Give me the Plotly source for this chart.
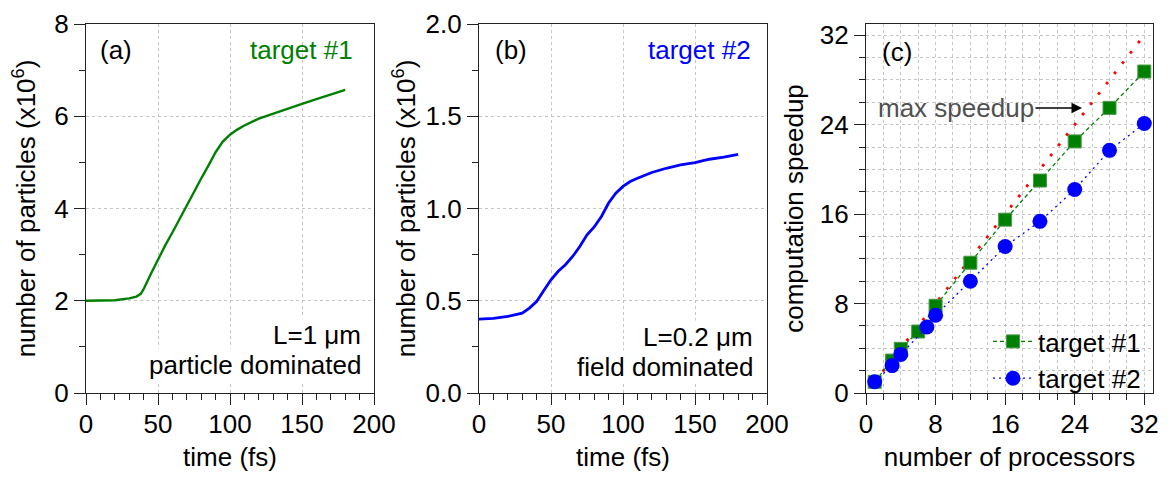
import plotly.graph_objects as go

FONT = "Liberation Sans, Arial, sans-serif"

# Panel (a): target #1
t_a = [0, 10, 20, 30, 35, 38, 40, 45, 50, 55, 60, 65, 70, 75, 80, 85, 90, 95, 100, 105,
       110, 120, 130, 140, 150, 160, 170, 180]
n_a = [2.00, 2.00, 2.01, 2.05, 2.09, 2.15, 2.25, 2.58, 2.90, 3.20, 3.48, 3.78, 4.07, 4.35,
       4.65, 4.93, 5.22, 5.45, 5.60, 5.71, 5.80, 5.95, 6.06, 6.17, 6.27, 6.37, 6.47, 6.57]

# Panel (b): target #2
t_b = [0, 10, 20, 30, 35, 40, 45, 50, 55, 60, 65, 70, 75, 80, 85, 90, 95, 100, 105, 110,
       120, 130, 140, 150, 160, 170, 180]
n_b = [0.400, 0.405, 0.415, 0.433, 0.460, 0.496, 0.555, 0.614, 0.660, 0.695, 0.740, 0.794,
       0.857, 0.900, 0.957, 1.030, 1.083, 1.120, 1.146, 1.164, 1.195, 1.218, 1.236, 1.249,
       1.267, 1.278, 1.294]

# Panel (c): speedup
procs_1 = [1, 3, 4, 6, 8, 12, 16, 20, 24, 28, 32]
speed_1 = [1.0, 2.9, 3.95, 5.5, 7.8, 11.65, 15.5, 19.0, 22.5, 25.5, 28.75]
procs_2 = [1, 3, 4, 7, 8, 12, 16, 20, 24, 28, 32]
speed_2 = [1.0, 2.45, 3.45, 5.9, 6.95, 10.0, 13.1, 15.35, 18.2, 21.7, 24.1]
ideal_procs = [1, 32]
ideal_speed = [1, 32]

GREEN = "#008000"
BLUE = "#0000ff"
RED = "#ff0000"
GRID = "#c4c4c4"
AX = "#222222"

fig = go.Figure()
fig.add_trace(go.Scatter(x=t_a, y=n_a, mode="lines", line=dict(color=GREEN, width=2.4),
                         xaxis="x", yaxis="y", showlegend=False))
fig.add_trace(go.Scatter(x=t_b, y=n_b, mode="lines", line=dict(color=BLUE, width=2.8),
                         xaxis="x2", yaxis="y2", showlegend=False))
fig.add_trace(go.Scatter(x=ideal_procs, y=ideal_speed, mode="lines",
                         line=dict(color=RED, width=2.8, dash="2.8px,10.2px"),
                         xaxis="x3", yaxis="y3", showlegend=False))
fig.add_trace(go.Scatter(x=procs_1, y=speed_1, mode="lines+markers", name="target #1",
                         line=dict(color=GREEN, width=1.3, dash="4px,3px"),
                         marker=dict(symbol="square", size=13, color=GREEN,
                                     line=dict(color="#4a9a4a", width=1)),
                         xaxis="x3", yaxis="y3"))
fig.add_trace(go.Scatter(x=procs_2, y=speed_2, mode="lines+markers", name="target #2",
                         line=dict(color=BLUE, width=1.3, dash="2px,4px"),
                         marker=dict(symbol="circle", size=15, color=BLUE),
                         xaxis="x3", yaxis="y3"))

W, H = 1169, 479
OFF = 8  # page body offset of the figure in the browser
# plot area in screen pixels: x 86..1153, y 24..393
ML = 86 - OFF
MR = W - (1153 - OFF)
MT = 24 - OFF
MB = H - (393 - OFF)
PW = W - ML - MR
PH = H - MT - MB


def dom(p0, p1):
    return [(p0 - OFF - ML) / PW, (p1 - OFF - ML) / PW]


def py(p):
    return (393 - p) / PH


tickfont = dict(family=FONT, size=26, color="black")
titlefont = dict(family=FONT, size=26, color="black")


def xaxis(domain, rng, dtick, mdtick, minor_grid, title, anchor):
    return dict(domain=domain, range=rng, anchor=anchor, dtick=dtick, tick0=0,
                automargin=False,
                showline=True, linecolor=AX, linewidth=1.2, mirror=True,
                ticks="outside", ticklen=11, tickwidth=1.2, tickcolor=AX,
                showgrid=True, gridcolor=GRID, griddash="dot", gridwidth=1,
                zeroline=False, tickfont=tickfont, ticklabelstandoff=-3,
                title=dict(text=title, font=titlefont, standoff=9),
                minor=dict(dtick=mdtick, tick0=0, ticks="outside", ticklen=6,
                           tickwidth=1.2, tickcolor=AX, showgrid=minor_grid,
                           gridcolor=GRID, griddash="dot", gridwidth=1))


def yaxis(rng, dtick, mdtick, minor_grid, title, anchor, standoff, fmt=None):
    d = dict(domain=[0, 1], range=rng, anchor=anchor, dtick=dtick, tick0=0,
             automargin=False,
             showline=True, linecolor=AX, linewidth=1.2, mirror=True,
             ticks="outside", ticklen=11, tickwidth=1.2, tickcolor=AX,
             showgrid=True, gridcolor=GRID, griddash="dot", gridwidth=1,
             zeroline=False, tickfont=tickfont,
             title=dict(text=title, font=titlefont, standoff=standoff),
             minor=dict(dtick=mdtick, tick0=0, ticks="outside", ticklen=6,
                        tickwidth=1.2, tickcolor=AX, showgrid=minor_grid,
                        gridcolor=GRID, griddash="dot", gridwidth=1))
    if fmt:
        d["tickformat"] = fmt
    return d


fig.update_layout(
    width=W, height=H, margin=dict(l=ML, r=MR, t=MT, b=MB),
    paper_bgcolor="white", plot_bgcolor="white",
    font=dict(family=FONT, color="black"),
    xaxis=xaxis(dom(86, 374), [0, 200], 50, 10, False, "time (fs)", "y"),
    yaxis=yaxis([0, 8], 2, 1, False, "number of particles (x10<sup>6</sup>)", "x", 11),
    xaxis2=xaxis(dom(479, 767), [0, 200], 50, 10, False, "time (fs)", "y2"),
    yaxis2=yaxis([0, 2], 0.5, 0.25, False, "number of particles (x10<sup>6</sup>)", "x2", 2, ".1f"),
    xaxis3=xaxis(dom(866, 1153), [0, 33], 8, 2, True, "number of processors", "y3"),
    yaxis3=yaxis([0, 33], 8, 2, True, "computation speedup", "x3", 8),
    legend=dict(x=dom(988, 988)[0], y=py(318), xanchor="left", yanchor="top",
                bgcolor="rgba(0,0,0,0)", font=dict(family=FONT, size=26, color="black"),
                itemwidth=40, tracegroupgap=0),
)

ann = []
txt = dict(family=FONT, size=26, color="black")
ann.append(dict(x=8, y=7.44, xref="x", yref="y", text="(a)", showarrow=False,
                xanchor="left", yanchor="middle", font=txt))
ann.append(dict(x=186.8, y=7.44, xref="x", yref="y", text="target #1", showarrow=False,
                xanchor="right", yanchor="middle", font=dict(family=FONT, size=26, color=GREEN)))
ann.append(dict(x=192.4, y=1.257, xref="x", yref="y", text="L=1 μm", showarrow=False,
                xanchor="right", yanchor="middle", font=txt, bgcolor="white"))
ann.append(dict(x=192.4, y=0.607, xref="x", yref="y", text="particle dominated", showarrow=False,
                xanchor="right", yanchor="middle", font=txt, bgcolor="white"))

ann.append(dict(x=9.7, y=1.859, xref="x2", yref="y2", text="(b)", showarrow=False,
                xanchor="left", yanchor="middle", font=txt))
ann.append(dict(x=190.3, y=1.859, xref="x2", yref="y2", text="target #2", showarrow=False,
                xanchor="right", yanchor="middle", font=dict(family=FONT, size=26, color=BLUE)))
ann.append(dict(x=191.7, y=0.3035, xref="x2", yref="y2", text="L=0.2 μm", showarrow=False,
                xanchor="right", yanchor="middle", font=txt, bgcolor="white"))
ann.append(dict(x=191.7, y=0.141, xref="x2", yref="y2", text="field dominated", showarrow=False,
                xanchor="right", yanchor="middle", font=txt, bgcolor="white"))

ann.append(dict(x=1.6, y=30.5, xref="x3", yref="y3", text="(c)", showarrow=False,
                xanchor="left", yanchor="middle", font=txt))
# "max speedup" label with arrow pointing to the ideal line
ann.append(dict(x=24.84, y=25.49, xref="x3", yref="y3", ax=10.35, ay=25.49,
                axref="x3", ayref="y3", text="max speedup", showarrow=True, arrowhead=2,
                arrowsize=1.4, arrowwidth=1.5, arrowcolor="black", standoff=0,
                font=dict(family=FONT, size=26, color="#505050")))

fig.update_layout(annotations=ann)
fig.write_html("out.html")
